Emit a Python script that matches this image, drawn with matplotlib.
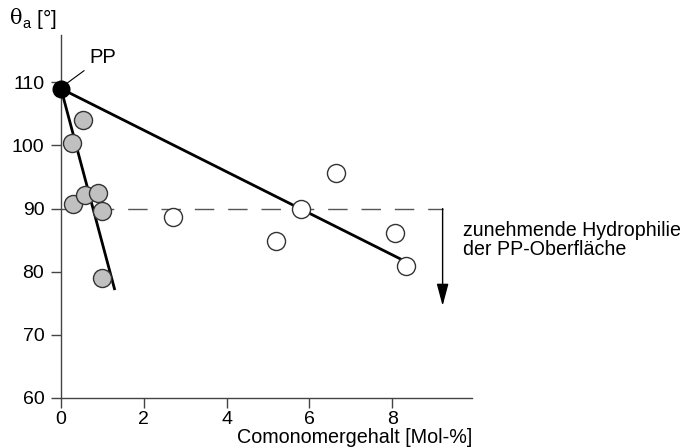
import matplotlib
matplotlib.use("Agg")
import matplotlib.pyplot as plt

plt.rcParams['font.family'] = ['Liberation Sans', 'DejaVu Sans']

# Data
pp_x = [0.0]
pp_y = [109.0]
gray_x = [0.54, 0.26, 0.30, 0.58, 0.90, 1.00, 1.00]
gray_y = [104.1, 100.4, 90.7, 92.1, 92.5, 89.7, 79.0]
open_x = [2.71, 5.19, 5.81, 6.64, 8.07, 8.33]
open_y = [88.7, 84.9, 89.9, 95.6, 86.1, 80.9]
steep_x = [0.0, 1.30]
steep_y = [109.0, 77.1]
shallow_x = [0.0, 8.33]
shallow_y = [109.0, 81.6]
ref_level = 90
dash_end = 9.22
arrow_tip = 74.6
xticks = [0, 2, 4, 6, 8]
yticks = [60, 70, 80, 90, 100, 110]

fig = plt.figure(figsize=(6.8, 4.48), dpi=100)
ax = fig.add_axes([61/680, 1-398/448, (472-61)/680, (398-35)/448])
ax.set_xlim(0, 9.93)
ax.set_ylim(60, 117.5)

for s in ['top', 'right']:
    ax.spines[s].set_visible(False)
for s in ['left', 'bottom']:
    ax.spines[s].set_color('#444444')
    ax.spines[s].set_linewidth(1.0)

ax.set_xticks(xticks)
ax.set_yticks(yticks)
ax.tick_params(axis='both', direction='out', length=7, width=1.0, color='#444444',
               labelsize=14, pad=2)
ax.tick_params(axis='y', pad=5)

# dashed reference line and arrow
ax.plot([0, dash_end], [ref_level, ref_level], color='#555555', lw=1.0,
        dashes=(14, 10), zorder=1, clip_on=False)
ax.annotate('', xy=(dash_end, arrow_tip), xytext=(dash_end, ref_level),
            arrowprops=dict(arrowstyle='-|>,head_length=0.75,head_width=0.2',
                            color='black', lw=1.0,
                            mutation_scale=18, shrinkA=0, shrinkB=0), zorder=1)

# trend lines
ax.plot(steep_x, steep_y, color='black', lw=2.0, zorder=2, solid_capstyle='butt')
ax.plot(shallow_x, shallow_y, color='black', lw=2.0, zorder=2, solid_capstyle='butt')

# points
ax.plot(gray_x, gray_y, 'o', ms=13, mfc='#c0c0c0', mec='#333333', mew=1.0, zorder=3,
        clip_on=False)
ax.plot(open_x, open_y, 'o', ms=13, mfc='white', mec='#333333', mew=1.0, zorder=3,
        clip_on=False)
ax.plot(pp_x, pp_y, 'o', ms=12, mfc='black', mec='black', zorder=4, clip_on=False)

# PP label
ax.annotate('PP', xy=(0.07, 109.5), xytext=(0.68, 114.0), fontsize=14.5,
            va='center', ha='left',
            arrowprops=dict(arrowstyle='-', color='black', lw=0.8,
                            shrinkA=2, shrinkB=0))

# annotation text
fig.text(463/680, 1-240/448, 'zunehmende Hydrophilie\nder PP-Oberfläche',
         fontsize=14.1, ha='left', va='center', linespacing=1.05)

# axis labels
fig.text(472/680, 1-437/448, 'Comonomergehalt [Mol-%]', fontsize=14.2,
         ha='right', va='center')
fig.text(10/680, 1-19/448, 'θ', fontsize=15, family='DejaVu Serif',
         ha='left', va='center')
fig.text(22/680, 1-19/448, r'$_{\mathregular{a}}$ [°]', fontsize=15,
         ha='left', va='center')

fig.savefig('out.png', dpi=100)
